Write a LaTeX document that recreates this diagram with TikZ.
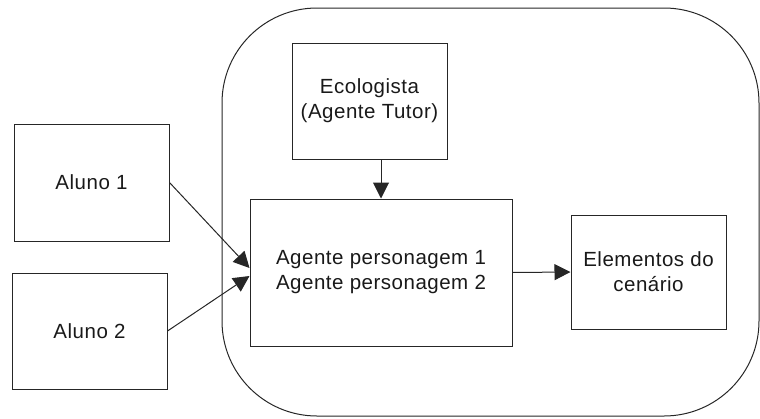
\documentclass[tikz,border=0pt]{standalone}
\usepackage{fontspec}
\setmainfont[LetterSpace=2.5]{Liberation Sans}
\usetikzlibrary{arrows.meta}
\begin{document}
\begin{tikzpicture}[x=1pt,y=-1pt,
  line width=1pt,
  box/.style={draw=black!85, rectangle, inner sep=0pt, align=center,
    font=\fontsize{20.5}{25}\selectfont, text=black!90},
  link/.style={draw=black!85, -{Triangle[length=16pt,width=16pt]}}]
\useasboundingbox (0,0) rectangle (760,418);

% environment boundary
\draw[draw=black!85, rounded corners=95pt] (222,8) rectangle (759,416);

% boxes
\node[box, minimum width=155pt, minimum height=117pt] (aluno1) at (91.5,182.5) {Aluno 1};
\node[box, minimum width=155pt, minimum height=116pt] (aluno2) at (89.5,331) {Aluno 2};
\node[box, minimum width=155pt, minimum height=116pt] (ecol) at (369.5,101) {Ecologista\\(Agente Tutor)};
\node[box, minimum width=262pt, minimum height=147pt] (agente) at (381,272.5) {Agente personagem 1\\Agente personagem 2};
\node[box, minimum width=155pt, minimum height=114pt] (elem) at (648.5,272) {Elementos do\\cenário};

% connectors
\draw[link] (aluno1.east) -- ([yshift=4.5pt]agente.west);
\draw[link] (aluno2.east) -- ([yshift=-3.5pt]agente.west);
\draw[link] (ecol.south -| agente.north) -- (agente.north);
\draw[link] (agente.east) -- (elem.west);
\end{tikzpicture}
\end{document}
